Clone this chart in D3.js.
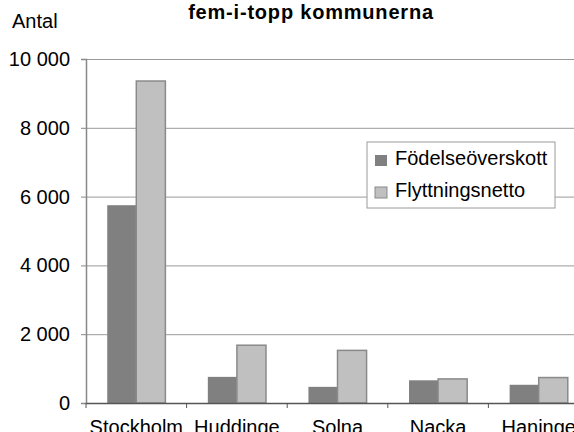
<!DOCTYPE html>
<html>
<head>
<meta charset="utf-8">
<script src="https://cdn.jsdelivr.net/npm/d3@7"></script>
<style>
  body { margin: 0; background: #fff; overflow: hidden; }
  text { font-family: "Liberation Sans", Arial, sans-serif; }
</style>
</head>
<body>
<script>
// data
const kommuner = ["Stockholm", "Huddinge", "Solna", "Nacka", "Haninge"];
const serier = ["Födelseöverskott", "Flyttningsnetto"];
const fodelseoverskott = [5750, 760, 470, 660, 530];
const flyttningsnetto = [9360, 1680, 1530, 700, 740];
const yTicks = [0, 2000, 4000, 6000, 8000, 10000];

const width = 574, height = 432;
const plotLeft = 86, plotRight = 589, plotTop = 59, plotBottom = 403;

const svg = d3.select("body").append("svg")
  .attr("width", width)
  .attr("height", height);

const sv = d3.formatLocale({ decimal: ",", thousands: " ", grouping: [3], currency: ["", " kr"] });
const fmt = sv.format(",d");

const x = d3.scaleBand().domain(kommuner).range([plotLeft, plotRight]);
const xInner = d3.scaleBand().domain(serier)
  .range([0, x.bandwidth()]).paddingOuter(0.73).paddingInner(0);
const y = d3.scaleLinear().domain([0, 10000]).range([plotBottom, plotTop]);
const color = d3.scaleOrdinal().domain(serier).range(["#808080", "#c0c0c0"]);

// gridlines
svg.append("g")
  .attr("transform", `translate(${plotLeft},0)`)
  .call(d3.axisLeft(y).tickValues(yTicks).tickSize(-(plotRight - plotLeft)).tickFormat(""))
  .call(g => g.select(".domain").remove())
  .call(g => g.selectAll("line").attr("stroke", "#9a9a9a"));

// bars
const rows = kommuner.map((k, i) => ({ k, values: [fodelseoverskott[i], flyttningsnetto[i]] }));
svg.append("g").selectAll("g")
  .data(rows)
  .join("g")
  .attr("transform", d => `translate(${x(d.k)},0)`)
  .selectAll("rect")
  .data(d => d.values.map((v, j) => ({ s: serier[j], v })))
  .join("rect")
  .attr("x", d => xInner(d.s))
  .attr("width", xInner.bandwidth())
  .attr("y", d => y(d.v))
  .attr("height", d => y(0) - y(d.v))
  .attr("fill", d => color(d.s))
  .attr("stroke", d => d.s === serier[1] ? "#8a8a8a" : "none")
  .attr("stroke-width", 1.5);

// y axis
svg.append("g")
  .attr("transform", `translate(${plotLeft},0)`)
  .call(d3.axisLeft(y).tickValues(yTicks).tickSize(5).tickPadding(11).tickFormat(fmt))
  .call(g => g.select(".domain").attr("stroke", "#888").attr("stroke-width", 1.5))
  .call(g => g.selectAll(".tick line").attr("stroke", "#888"))
  .call(g => g.selectAll("text").attr("font-size", 20).attr("fill", "#000")
    .attr("font-family", "Liberation Sans, Arial, sans-serif"));

// x axis
svg.append("g")
  .attr("transform", `translate(0,${plotBottom})`)
  .call(d3.axisBottom(x).tickSize(0).tickPadding(17))
  .call(g => g.select(".domain").attr("stroke", "#555").attr("stroke-width", 1.5))
  .call(g => g.selectAll("text").attr("font-size", 20).attr("fill", "#000")
    .attr("font-family", "Liberation Sans, Arial, sans-serif"));

// category boundary ticks
svg.append("g").selectAll("line")
  .data(kommuner)
  .join("line")
  .attr("x1", d => x(d)).attr("x2", d => x(d))
  .attr("y1", plotBottom).attr("y2", plotBottom + 5)
  .attr("stroke", "#555");

// title and axis label
svg.append("text")
  .attr("x", 311).attr("y", 19)
  .attr("text-anchor", "middle")
  .attr("font-weight", "bold")
  .attr("font-size", 20)
  .attr("letter-spacing", 0.8)
  .text("fem-i-topp kommunerna");

svg.append("text")
  .attr("x", 12).attr("y", 28)
  .attr("font-size", 20)
  .text("Antal");

// legend
const legend = svg.append("g").attr("transform", "translate(367,142)");
legend.append("rect")
  .attr("width", 188).attr("height", 66)
  .attr("fill", "#fff").attr("stroke", "#9a9a9a");
const item = legend.selectAll("g")
  .data(serier)
  .join("g")
  .attr("transform", (d, i) => `translate(8,${13 + i * 32})`);
item.append("rect")
  .attr("width", 12).attr("height", 11)
  .attr("fill", d => color(d))
  .attr("stroke", d => d === serier[1] ? "#8a8a8a" : "none");
item.append("text")
  .attr("x", 20).attr("y", 10)
  .attr("font-size", 20)
  .text(d => d);
</script>
</body>
</html>
